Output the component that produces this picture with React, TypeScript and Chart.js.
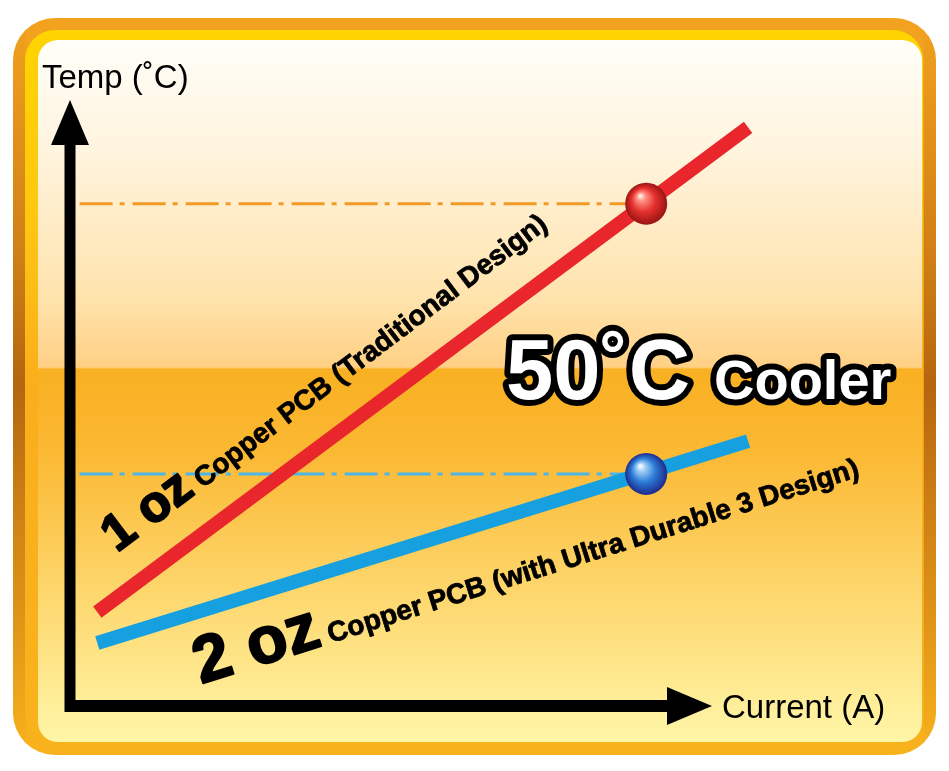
import React, { useEffect, useRef } from "react";
import { Chart, registerables } from "chart.js";

Chart.register(...registerables);

// ---- data (abstract units: Current on x, Temp on y) ----
const SERIES_NAMES = ["1 oz", "2 oz"];
const SERIES_SUBTITLES = [
  "Copper PCB (Traditional Design)",
  "Copper PCB (with Ultra Durable 3 Design)",
];
const LINE_CURRENT = [0.34, 8.45];
const TEMP_1OZ = [15.5, 95.5];
const TEMP_2OZ = [10.4, 43.7];
const MARKER_CURRENT = 7.18;
const MARKER_TEMP = [82.9, 38.3];
const GUIDE_START = 0.12;
const X_AXIS_TIP = 8;
const Y_AXIS_TIP = 100;
const AXIS_TITLES = ["Temp (˚C)", "Current (A)"];
const HEADLINE = ["50˚C", "Cooler"];

const FONT = '"Liberation Sans", Arial, Helvetica, sans-serif';

function rr(ctx: CanvasRenderingContext2D, x0: number, y0: number, x1: number, y1: number, r: number) {
  ctx.beginPath();
  ctx.moveTo(x0 + r, y0);
  ctx.lineTo(x1 - r, y0);
  ctx.arcTo(x1, y0, x1, y0 + r, r);
  ctx.lineTo(x1, y1 - r);
  ctx.arcTo(x1, y1, x1 - r, y1, r);
  ctx.lineTo(x0 + r, y1);
  ctx.arcTo(x0, y1, x0, y1 - r, r);
  ctx.lineTo(x0, y0 + r);
  ctx.arcTo(x0, y0, x0 + r, y0, r);
  ctx.closePath();
}

const framePlugin = {
  id: "frame",
  beforeDraw(chart: any) {
    const ctx: CanvasRenderingContext2D = chart.ctx;
    ctx.save();
    ctx.fillStyle = "#ffffff";
    ctx.fillRect(0, 0, chart.width, chart.height);
    rr(ctx, 13, 18, 936, 755, 42);
    const go = ctx.createLinearGradient(0, 18, 0, 755);
    go.addColorStop(0, "#F2A21E");
    go.addColorStop(0.5, "#EE9E1C");
    go.addColorStop(1, "#F8B21C");
    ctx.fillStyle = go;
    ctx.fill();
    ctx.save();
    rr(ctx, 13, 18, 936, 755, 42);
    ctx.clip();
    const gs = ctx.createLinearGradient(0, 18, 0, 755);
    gs.addColorStop(0, "rgba(180,100,15,0)");
    gs.addColorStop(0.3, "rgba(180,100,15,0.5)");
    gs.addColorStop(0.5, "rgba(175,95,12,0.9)");
    gs.addColorStop(0.75, "rgba(190,110,18,0.5)");
    gs.addColorStop(1, "rgba(190,110,18,0)");
    ctx.fillStyle = gs;
    ctx.fillRect(13, 18, 12, 737);
    ctx.fillRect(924, 18, 12, 737);
    ctx.restore();
    rr(ctx, 25, 30, 923, 743, 30);
    const gy = ctx.createLinearGradient(0, 30, 0, 743);
    gy.addColorStop(0, "#FFD400");
    gy.addColorStop(0.25, "#FFC810");
    gy.addColorStop(0.5, "#FBAE1C");
    gy.addColorStop(1, "#F9B21C");
    ctx.fillStyle = gy;
    ctx.fill();
    rr(ctx, 38, 40, 922, 742, 20);
    const gi = ctx.createLinearGradient(0, 40, 0, 742);
    gi.addColorStop(0, "#FFFEF8");
    gi.addColorStop(0.157, "#FFF4DE");
    gi.addColorStop(0.37, "#FFE3AC");
    gi.addColorStop(0.466, "#FFD084");
    gi.addColorStop(0.469, "#F9B022");
    gi.addColorStop(0.584, "#FBB832");
    gi.addColorStop(0.77, "#FDD468");
    gi.addColorStop(1, "#FFF6A8");
    ctx.fillStyle = gi;
    ctx.fill();
    ctx.restore();
  },
};

function sphere(ctx: CanvasRenderingContext2D, cx: number, cy: number, r: number, stops: string[]) {
  const g = ctx.createRadialGradient(cx - 6, cy - 8, 1, cx, cy, r);
  g.addColorStop(0, stops[0]);
  g.addColorStop(0.18, stops[1]);
  g.addColorStop(0.55, stops[2]);
  g.addColorStop(1, stops[3]);
  ctx.beginPath();
  ctx.arc(cx, cy, r, 0, Math.PI * 2);
  ctx.fillStyle = g;
  ctx.fill();
}

const overlayPlugin = {
  id: "overlay",
  afterDatasetsDraw(chart: any) {
    const ctx: CanvasRenderingContext2D = chart.ctx;
    const xs = chart.scales.x;
    const ys = chart.scales.y;
    ctx.save();
    const mx = xs.getPixelForValue(MARKER_CURRENT);
    sphere(ctx, mx, ys.getPixelForValue(MARKER_TEMP[0]), 21, ["#FFE6E0", "#FF8C80", "#E5302C", "#981414"]);
    sphere(ctx, mx, ys.getPixelForValue(MARKER_TEMP[1]), 21, ["#F2F9FF", "#9CCBF5", "#2B7BD6", "#1E2A8A"]);

    const ox = xs.getPixelForValue(0);
    const oy = ys.getPixelForValue(0);
    const tx = xs.getPixelForValue(X_AXIS_TIP);
    const ty = ys.getPixelForValue(Y_AXIS_TIP);
    ctx.fillStyle = "#000";
    ctx.fillRect(ox - 5.5, ty + 44, 11, oy + 6 - (ty + 44));
    ctx.fillRect(ox - 5, oy - 6, tx - 44 - (ox - 5), 12);
    ctx.beginPath();
    ctx.moveTo(ox, ty);
    ctx.lineTo(ox + 19, ty + 45);
    ctx.lineTo(ox - 19, ty + 45);
    ctx.closePath();
    ctx.fill();
    ctx.beginPath();
    ctx.moveTo(tx, oy);
    ctx.lineTo(tx - 45, oy - 19);
    ctx.lineTo(tx - 45, oy + 19);
    ctx.closePath();
    ctx.fill();

    ctx.font = `33px ${FONT}`;
    ctx.textBaseline = "alphabetic";
    ctx.textAlign = "left";
    ctx.fillText(AXIS_TITLES[0], 42, 88);
    ctx.fillText(AXIS_TITLES[1], 722, 718);

    const drawLabel = (x: number, y: number, deg: number, big: string, bigSize: number, small: string, smallSize: number) => {
      ctx.save();
      ctx.translate(x, y);
      ctx.rotate((-deg * Math.PI) / 180);
      ctx.fillStyle = "#000";
      ctx.strokeStyle = "#000";
      ctx.lineJoin = "round";
      ctx.font = `bold ${bigSize}px ${FONT}`;
      ctx.lineWidth = 2;
      ctx.strokeText(big, 0, 0);
      ctx.fillText(big, 0, 0);
      const w = ctx.measureText(big).width;
      ctx.font = `bold ${smallSize}px ${FONT}`;
      const sp = ctx.measureText(" ").width;
      ctx.lineWidth = 0.8;
      ctx.strokeText(small, w + sp, 0);
      ctx.fillText(small, w + sp, 0);
      ctx.restore();
    };
    drawLabel(117, 553, 37, SERIES_NAMES[0], 51, SERIES_SUBTITLES[0], 28);
    drawLabel(201, 684, 17.5, SERIES_NAMES[1], 66, SERIES_SUBTITLES[1], 28);

    ctx.lineJoin = "round";
    ctx.strokeStyle = "#000";
    ctx.fillStyle = "#fff";
    ctx.lineWidth = 12;
    ctx.font = `bold 85px ${FONT}`;
    ctx.strokeText(HEADLINE[0], 506, 399);
    ctx.fillText(HEADLINE[0], 506, 399);
    ctx.font = `bold 56px ${FONT}`;
    ctx.strokeText(HEADLINE[1], 714, 399);
    ctx.fillText(HEADLINE[1], 714, 399);
    ctx.restore();
  },
};

export default function App() {
  const ref = useRef<HTMLCanvasElement | null>(null);
  useEffect(() => {
    if (!ref.current) return;
    const pts = (ys: number[]) => LINE_CURRENT.map((x, i) => ({ x, y: ys[i] }));
    const chart = new Chart(ref.current, {
      type: "line",
      data: {
        datasets: [
          {
            label: SERIES_NAMES[0] + " " + SERIES_SUBTITLES[0],
            data: pts(TEMP_1OZ),
            borderColor: "#E8262B",
            borderWidth: 14,
            borderCapStyle: "butt",
            pointRadius: 0,
            order: 1,
          },
          {
            label: SERIES_NAMES[1] + " " + SERIES_SUBTITLES[1],
            data: pts(TEMP_2OZ),
            borderColor: "#17A0DF",
            borderWidth: 14,
            borderCapStyle: "butt",
            pointRadius: 0,
            order: 1,
          },
          {
            label: "guide1",
            data: [
              { x: GUIDE_START, y: MARKER_TEMP[0] },
              { x: MARKER_CURRENT, y: MARKER_TEMP[0] },
            ],
            borderColor: "#F29A26",
            borderWidth: 3,
            borderDash: [33, 7, 5, 8],
            pointRadius: 0,
            order: 2,
          },
          {
            label: "guide2",
            data: [
              { x: GUIDE_START, y: MARKER_TEMP[1] },
              { x: MARKER_CURRENT, y: MARKER_TEMP[1] },
            ],
            borderColor: "#4DB6E6",
            borderWidth: 3,
            borderDash: [33, 7, 5, 8],
            pointRadius: 0,
            order: 2,
          },
        ],
      },
      options: {
        animation: false,
        responsive: false,
        devicePixelRatio: 1,
        layout: { padding: { left: 70, right: 76.5, top: 100, bottom: 65 } },
        scales: {
          x: { type: "linear", min: 0, max: 10, display: false },
          y: { type: "linear", min: 0, max: 100, display: false },
        },
        plugins: { legend: { display: false }, tooltip: { enabled: false } },
        events: [],
      } as any,
      plugins: [framePlugin, overlayPlugin],
    });
    return () => chart.destroy();
  }, []);
  return (
    <div style={{ position: "fixed", left: 0, top: 0, width: 949, height: 771, background: "#fff" }}>
      <canvas ref={ref} width={949} height={771} style={{ display: "block" }} />
    </div>
  );
}
